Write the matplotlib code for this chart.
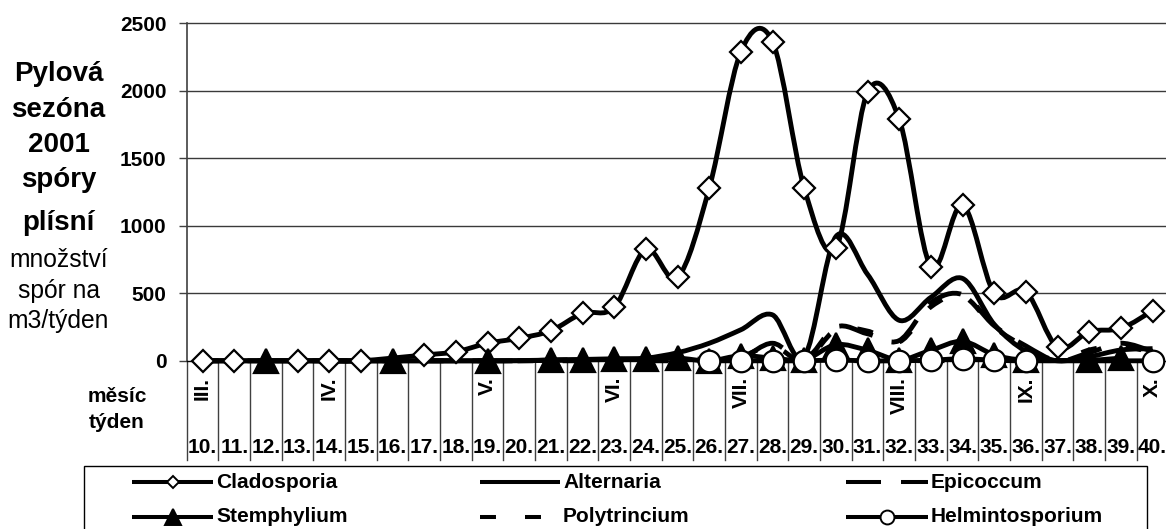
import numpy as np
import matplotlib
matplotlib.use("Agg")
import matplotlib.pyplot as plt
import matplotlib.transforms as mtransforms
from matplotlib.path import Path
from matplotlib.patches import PathPatch, Rectangle
from matplotlib.lines import Line2D

plt.rcParams["font.family"] = ["Liberation Sans", "DejaVu Sans"]
plt.rcParams["lines.scale_dashes"] = False

nan = np.nan

# ---- data: weekly spore counts per m3, weeks 10..40 of 2001 ----
weeks = list(range(10, 41))
week_labels = [f"{w}." for w in weeks]
months = ["III.", "IV.", "V.", "VI.", "VII.", "VIII.", "IX.", "X."]
month_weeks = [10, 14, 19, 23, 27, 32, 36, 40]

cladosporia = [0, 0, nan, 0, 0, 0, nan, 43, 67, 130, 167, 223, 352, 396, 826,
               618, 1278, 2290, 2364, 1278, 833, 1990, 1789, 697, 1154, 500,
               512, 100, 216, 240, 371]
alternaria = [0, 0, 0, 0, 0, 0, 0, 0, 0, 0, 0, 5, 10, 15, 20, 60, 130, 230,
              340, 30, 920, 640, 300, 470, 610, 270, 70, 0, 30, 80, 90]
epicoccum = [0, 0, 0, 0, 0, 0, 0, 0, 0, 0, 0, 5, 8, 10, 15, 20, 10, 20, 130,
             10, 250, 200, 150, 430, 490, 260, 110, 0, 60, 130, 70]
stemphylium = [nan, nan, 0, nan, nan, nan, 0, nan, nan, 0, nan, 5, 8, 10, 13,
               20, 0, 38, 20, 8, 119, 78, 8, 78, 144, 45, 5, nan, 5, 20, nan]
polytrincium = [0, 0, 0, 0, 0, 0, 0, 0, 0, 0, 0, 0, 0, 0, 0, 0, 0, 30, 110,
                0, 230, 220, 140, 400, 480, 250, 100, 0, 80, 110, 60]
helmintosporium = [nan] * 16 + [0, 0, 0, 0, 5, 0, 0, 5, 15, 5, 0] + [nan, nan, nan, 0]

series = [
    ("Cladosporia", cladosporia, dict(ls="-", marker="D", ms=11.5, mfc="white", lms=6.5)),
    ("Alternaria", alternaria, dict(ls="-", marker=None, ms=0, mfc="none", lms=0)),
    ("Epicoccum", epicoccum, dict(ls=(0, (25.2, 14.4)), marker=None, ms=0, mfc="none", lms=0)),
    ("Stemphylium", stemphylium, dict(ls="-", marker="^", ms=17, mfc="black", lms=11)),
    ("Polytrincium", polytrincium, dict(ls=(0, (11.5, 20.9)), marker=None, ms=0, mfc="none", lms=0)),
    ("Helmintosporium", helmintosporium, dict(ls="-", marker="o", ms=15.5, mfc="white", lms=10)),
]

W_PX, H_PX = 1166, 529
fig = plt.figure(figsize=(W_PX / 100, H_PX / 100), dpi=100)


def fx(px):
    return px / W_PX


def fy(py):
    return 1 - py / H_PX


ax_left, ax_right, ax_top, ax_bottom = 186.7, 1168.4, 23.3, 360.8
ax = fig.add_axes([fx(ax_left), fy(ax_bottom), fx(ax_right - ax_left),
                   (ax_bottom - ax_top) / H_PX])
ax.set_xlim(-0.5, len(weeks) - 0.5)
ax.set_ylim(0, 2500)
ax.patch.set_alpha(0)

for s in ("top", "right"):
    ax.spines[s].set_visible(False)
ax.spines["left"].set_color("#404040")
ax.spines["left"].set_linewidth(1.2)
ax.spines["bottom"].set_color("black")
ax.spines["bottom"].set_linewidth(1.0)

yticks = [0, 500, 1000, 1500, 2000, 2500]
ax.set_yticks(yticks)
ax.set_yticklabels([str(v) for v in yticks], fontsize=15, fontweight="bold")
ax.tick_params(axis="y", direction="out", length=5.8, width=1, pad=8.6,
               color="#404040")
ax.set_xticks([])
for v in yticks[1:]:
    ax.axhline(v, color="#3a3a3a", lw=1.0, zorder=1, clip_on=False)

# category separators running from the zero line down through the label band
blend = mtransforms.blended_transform_factory(ax.transData, ax.transAxes)
sep_depth = -(460 - ax_bottom) / (ax_bottom - ax_top)
for k in range(len(weeks) + 1):
    ax.plot([k - 0.5, k - 0.5], [0, sep_depth], transform=blend,
            color="#404040", lw=1.0, clip_on=False, zorder=1)

week_base = -(453 - ax_bottom) / (ax_bottom - ax_top)
for i, lab in enumerate(week_labels):
    ax.text(i, week_base, lab, transform=blend, ha="center", va="baseline",
            fontsize=15, fontweight="bold")

month_top = -(377 - ax_bottom) / (ax_bottom - ax_top)
for m, w in zip(months, month_weeks):
    ax.text(weeks.index(w), month_top, m, transform=blend, rotation=90,
            ha="center", va="top", fontsize=15, fontweight="bold")


def smooth_path(x, y):
    pts = np.array([(xi, yi) for xi, yi in zip(x, y) if not np.isnan(yi)],
                   dtype=float)
    n = len(pts)
    verts = [pts[0]]
    codes = [Path.MOVETO]
    for i in range(n - 1):
        p0 = pts[i - 1] if i > 0 else pts[i]
        p1, p2 = pts[i], pts[i + 1]
        p3 = pts[i + 2] if i + 2 < n else pts[i + 1]
        verts += [p1 + (p2 - p0) / 6.0, p2 - (p3 - p1) / 6.0, p2]
        codes += [Path.CURVE4] * 3
    return Path(verts, codes)


xs = np.arange(len(weeks))
LW = 3.5
for name, vals, st in series:
    vals = np.array(vals, dtype=float)
    patch = PathPatch(smooth_path(xs, vals), fill=False, edgecolor="black",
                      lw=LW, linestyle=st["ls"], transform=ax.transData,
                      clip_on=False, zorder=3, capstyle="butt",
                      joinstyle="round")
    ax.add_patch(patch)

for zi, (name, vals, st) in enumerate(series):
    if st["marker"] is None:
        continue
    ax.plot(xs, np.array(vals, dtype=float), ls="none", marker=st["marker"],
            ms=st["ms"], mfc=st["mfc"], mec="black", mew=1.6,
            clip_on=False, zorder=4 + zi)

# left-hand caption
bold_lines = [("Pylová", 81), ("sezóna", 117), ("2001", 152), ("spóry", 187),
              ("plísní", 230)]
for txt, base in bold_lines:
    fig.text(fx(58.5), fy(base), txt, ha="center", va="baseline",
             fontsize=20, fontweight="bold")
plain_lines = [("množství", 267), ("spór na", 298), ("m3/týden", 328)]
for txt, base in plain_lines:
    fig.text(fx(58.5), fy(base), txt, ha="center", va="baseline",
             fontsize=17.7)
fig.text(fx(117), fy(401.5), "měsíc", ha="center", va="baseline",
         fontsize=15, fontweight="bold")
fig.text(fx(117), fy(428), "týden", ha="center", va="baseline",
         fontsize=15, fontweight="bold")

# legend box
fig.add_artist(Rectangle((fx(84), fy(545)), fx(1147 - 84), (545 - 465.5) / H_PX,
                         transform=fig.transFigure, facecolor="white",
                         edgecolor="black", lw=1.0, zorder=5))
col_x = [(132, 213), (480, 560), (846, 928)]
row_y = [482, 516.5]
for idx, (name, vals, st) in enumerate(series):
    r, c = divmod(idx, 3)
    x0, x1 = col_x[c]
    y = row_y[r]
    fig.add_artist(Line2D([fx(x0), fx(x1)], [fy(y), fy(y)],
                          transform=fig.transFigure, color="black", lw=2.9,
                          linestyle=st["ls"], dash_capstyle="butt",
                          solid_capstyle="butt", zorder=6))
    if st["marker"] is not None:
        fig.add_artist(Line2D([fx((x0 + x1) / 2)], [fy(y)],
                              transform=fig.transFigure, ls="none",
                              marker=st["marker"], ms=st["lms"],
                              mfc=st["mfc"], mec="black", mew=1.4, zorder=7))
    fig.text(fx(x1 + 3), fy(y + 0.5), name, ha="left", va="center",
             fontsize=15, fontweight="bold", zorder=7)

fig.savefig("out.png", dpi=100)
